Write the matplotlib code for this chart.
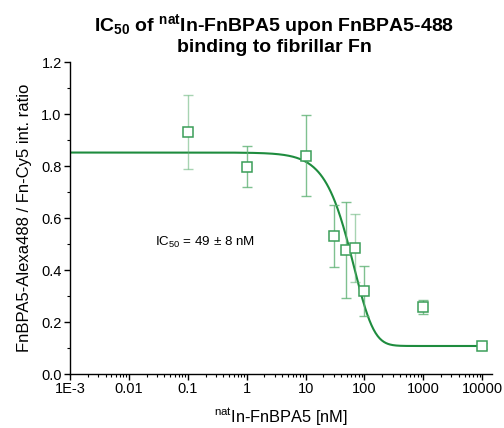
import numpy as np
import matplotlib
matplotlib.use("Agg")
import matplotlib.pyplot as plt
from matplotlib.ticker import FixedLocator, LogLocator, MultipleLocator, NullFormatter, FormatStrFormatter

plt.rcParams['font.family'] = ['Liberation Sans', 'DejaVu Sans']
plt.rcParams['mathtext.default'] = 'regular'

# data
conc = [0.1, 1, 10, 30, 49, 70, 100, 1000, 10000]
ratio = [0.931, 0.798, 0.840, 0.531, 0.477, 0.486, 0.320, 0.259, 0.108]
err = [0.143, 0.078, 0.157, 0.120, 0.186, 0.130, 0.095, 0.027, 0.012]
bar_alpha = [0.55, 0.8, 0.8, 0.8, 0.8, 0.55, 0.8, 0.8, 0.8]

# fitted dose-response curve parameters (asymmetric logistic)
fit_top = 0.852
fit_bottom = 0.108
fit_c = 158.0
fit_hill = 1.6
fit_asym = 4.0

xticks = [1e-3, 1e-2, 1e-1, 1, 10, 100, 1000, 10000]
xticklabels = ["1E-3", "0.01", "0.1", "1", "10", "100", "1000", "10000"]

green_line = '#1e8c3e'
green_mk = '#3a9e58'
green_err = '#5fb274'

fig = plt.figure(figsize=(5.04, 4.28), dpi=100)
ax = fig.add_axes([0.139, 0.126, 0.837, 0.729])

xf = np.logspace(-3, 4, 600)
yf = fit_bottom + (fit_top - fit_bottom) / (1 + (xf / fit_c) ** fit_hill) ** fit_asym
ax.plot(xf, yf, color=green_line, lw=1.5, zorder=2)

for x, y, e, a in zip(conc, ratio, err, bar_alpha):
    ax.errorbar([x], [y], yerr=[e], fmt='none', ecolor=green_err, alpha=a,
                elinewidth=1.0, capsize=3.5, capthick=1.0, zorder=3)
ax.plot(conc, ratio, ls='none', marker='s', ms=7, mfc='white', mec=green_mk,
        mew=1.1, zorder=4)

ax.set_xscale('log')
ax.set_xlim(1e-3, 1.46e4)
ax.set_ylim(0, 1.2)
ax.xaxis.set_major_locator(FixedLocator(xticks))
ax.set_xticklabels(xticklabels)
ax.xaxis.set_minor_locator(LogLocator(base=10, subs=np.arange(2, 10)))
ax.xaxis.set_minor_formatter(NullFormatter())
ax.yaxis.set_major_locator(MultipleLocator(0.2))
ax.yaxis.set_minor_locator(MultipleLocator(0.1))
ax.yaxis.set_major_formatter(FormatStrFormatter('%.1f'))

for s in ['top', 'right']:
    ax.spines[s].set_visible(False)
for s in ['left', 'bottom']:
    ax.spines[s].set_linewidth(1.0)
ax.tick_params(which='major', direction='out', length=4, width=1.0, labelsize=10.5, pad=2)
ax.tick_params(which='minor', direction='out', length=2.5, width=0.8)

ax.set_xlabel('$^{nat}$In-FnBPA5 [nM]', fontsize=11.8, labelpad=7)
ax.set_ylabel('FnBPA5-Alexa488 / Fn-Cy5 int. ratio', fontsize=12, labelpad=7)

ax.text(0.028, 0.508, 'IC$_{50}$ = 49 ± 8 nM', fontsize=9.6, ha='left', va='center')

fig.text(0.544, 0.921, 'IC$_{50}$ of $^{nat}$In-FnBPA5 upon FnBPA5-488\nbinding to fibrillar Fn',
         ha='center', va='center', fontsize=14, fontweight='bold', linespacing=1.1)

fig.savefig('out.png', dpi=100)
